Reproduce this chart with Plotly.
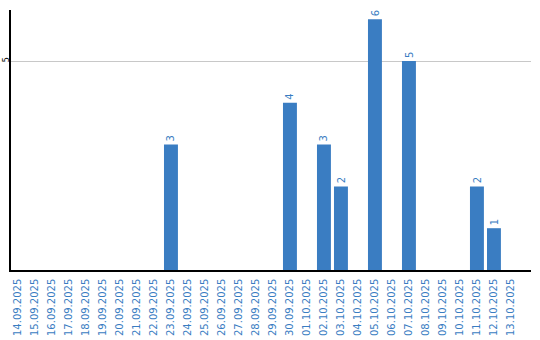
import plotly.graph_objects as go
import datetime as dt

start = dt.date(2025, 9, 14)
dates = [(start + dt.timedelta(days=i)).strftime("%d.%m.%Y") for i in range(30)]
value_by_date = {
    "23.09.2025": 3,
    "30.09.2025": 4,
    "02.10.2025": 3,
    "03.10.2025": 2,
    "05.10.2025": 6,
    "07.10.2025": 5,
    "11.10.2025": 2,
    "12.10.2025": 1,
}
values = [value_by_date.get(d, 0) for d in dates]

blue = "#3a7dc2"
fig = go.Figure(go.Bar(
    x=dates, y=values,
    marker=dict(color=blue, line=dict(width=0)), cliponaxis=False,
))
for d, v in zip(dates, values):
    if v:
        fig.add_annotation(x=d, y=v, text=str(v), textangle=-90, showarrow=False,
                           yanchor="bottom", yshift=1,
                           font=dict(color=blue, size=10, family="DejaVu Sans"))
fig.update_layout(
    width=540, height=340, margin=dict(l=11, r=9, t=10, b=70),
    paper_bgcolor="white", plot_bgcolor="white", bargap=0.18,
    font=dict(family="DejaVu Sans", size=10), showlegend=False,
)
fig.update_xaxes(type="category", range=[-0.41, 30.18], tickangle=-90,
                 tickfont=dict(color=blue, size=10),
                 showline=True, linecolor="black", linewidth=1.5, showgrid=False, ticks="",
                 ticklabelstandoff=3, automargin=False)
fig.update_yaxes(range=[0, 6.22], tickvals=[5], ticktext=["5"], tickangle=-90,
                 tickfont=dict(color="black", size=8), showline=True, linecolor="black",
                 linewidth=1.5, showgrid=True, gridcolor="#c8c8c8", zeroline=False, ticks="",
                 ticklabelstandoff=-3, automargin=False)
fig.write_html("out.html")
